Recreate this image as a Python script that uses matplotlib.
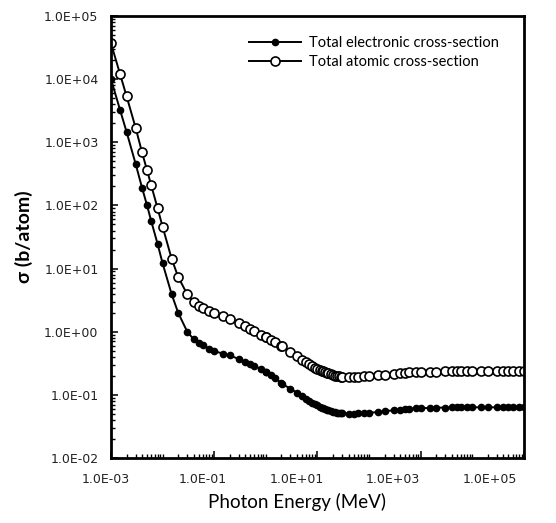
import numpy as np
import matplotlib.pyplot as plt
from matplotlib.ticker import LogLocator, FixedLocator, FuncFormatter, NullFormatter
from matplotlib.transforms import offset_copy

# photon energies (MeV)
energy = [1e-3, 1.5e-3, 2e-3, 3e-3, 4e-3, 5e-3, 6e-3, 8e-3, 1e-2, 1.5e-2,
          2e-2, 3e-2, 4e-2, 5e-2, 6e-2, 8e-2, 0.1, 0.15, 0.2, 0.3,
          0.4, 0.5, 0.6, 0.8, 1.0, 1.022, 1.25, 1.5, 2.0, 2.044,
          3, 4, 5, 6, 7, 8, 9, 10, 11, 12,
          13, 14, 15, 16, 18, 20, 22, 24, 26, 28,
          30, 40, 50, 60, 80, 100, 150, 200, 300, 400,
          500, 600, 800, 1000, 1500, 2000, 3000, 4000, 5000, 6000,
          8000, 1e4, 1.5e4, 2e4, 3e4, 4e4, 5e4, 6e4, 8e4, 1e5]

# total electronic cross-section (b/atom)
electronic = [1.0e4, 3.25e3, 1.47e3, 456, 190, 100, 57, 24.5, 12.1, 3.9,
              2.0, 1.0, 0.76, 0.67, 0.61, 0.54, 0.49, 0.45, 0.42, 0.37,
              0.33, 0.31, 0.288, 0.257, 0.232, 0.229, 0.205, 0.185, 0.152, 0.15,
              0.125, 0.108, 0.096, 0.087, 0.08, 0.075, 0.071, 0.068, 0.065, 0.063,
              0.061, 0.0595, 0.058, 0.057, 0.055, 0.054, 0.053, 0.052, 0.0515, 0.051,
              0.051, 0.0505, 0.0505, 0.051, 0.0515, 0.052, 0.0535, 0.055, 0.057, 0.0585,
              0.0595, 0.06, 0.061, 0.0615, 0.062, 0.0625, 0.063, 0.0633, 0.0635, 0.0635,
              0.0635, 0.0635, 0.0635, 0.0635, 0.0635, 0.0635, 0.0635, 0.0635, 0.0635, 0.0635]

# total atomic cross-section (b/atom)
atomic = [3.7e4, 1.2e4, 5.4e3, 1.7e3, 690, 360, 210, 90, 46, 14.2,
          7.4, 3.9, 2.95, 2.58, 2.35, 2.15, 2.0, 1.75, 1.6, 1.35,
          1.22, 1.1, 1.02, 0.9, 0.82, 0.81, 0.74, 0.69, 0.6, 0.59,
          0.48, 0.41, 0.36, 0.33, 0.305, 0.285, 0.27, 0.26, 0.25, 0.243,
          0.236, 0.23, 0.225, 0.22, 0.212, 0.206, 0.202, 0.199, 0.197, 0.195,
          0.194, 0.192, 0.192, 0.193, 0.196, 0.199, 0.204, 0.209, 0.216, 0.221,
          0.224, 0.226, 0.229, 0.231, 0.233, 0.234, 0.235, 0.235, 0.236, 0.236,
          0.236, 0.236, 0.236, 0.236, 0.236, 0.236, 0.236, 0.236, 0.236, 0.236]

x_ticks = [1e-3, 1e-1, 1e1, 1e3, 1e5]
x_tick_labels = ['1.0E-03', '1.0E-01', '1.0E+01', '1.0E+03', '1.0E+05']

fig = plt.figure(figsize=(5.56, 5.23), dpi=100)
ax = fig.add_axes([0.1996, 0.1243, 0.7428, 0.8451])

ax.plot(energy, electronic, '-o', color='black', lw=1.4, ms=4.5,
        mfc='black', mec='black', label='Total electronic cross-section')
ax.plot(energy, atomic, '-o', color='black', lw=1.4, ms=6.5,
        mfc='white', mec='black', mew=1.2, label='Total atomic cross-section')

ax.set_xscale('log')
ax.set_yscale('log')
ax.set_xlim(1e-3, 1e5)
ax.set_ylim(1e-2, 1e5)

fmt = FuncFormatter(lambda v, pos: f"{v:.1E}")
ax.xaxis.set_major_locator(FixedLocator(x_ticks))
ax.xaxis.set_minor_locator(LogLocator(base=10, subs=np.arange(1, 10)))
ax.yaxis.set_major_locator(LogLocator(base=10))
ax.yaxis.set_minor_locator(LogLocator(base=10, subs=np.arange(2, 10)))
ax.xaxis.set_major_formatter(NullFormatter())
ax.yaxis.set_major_formatter(fmt)
ax.xaxis.set_minor_formatter(NullFormatter())
ax.yaxis.set_minor_formatter(NullFormatter())

ax.tick_params(which='major', direction='in', length=5, width=1.3,
               labelsize=9, colors='#222222')
ax.tick_params(axis='y', which='major', pad=9)
ax.tick_params(which='minor', direction='in', length=3, width=1)
ax.tick_params(top=False, right=False, which='both')
for s in ax.spines.values():
    s.set_linewidth(2)

# x tick labels sit a bit left of their ticks in the original, more so to the right
shifts = [-5, -11.5, -20.5, -27.5, -34]
for xv, lab, dx in zip(x_ticks, x_tick_labels, shifts):
    tr = offset_copy(ax.get_xaxis_transform(), fig=fig, x=dx, y=-22, units='dots')
    ax.text(xv, 0, lab, transform=tr, ha='center', va='center',
            fontsize=9, color='#222222', clip_on=False)

ax.set_xlabel('Photon Energy (MeV)', fontsize=13.5, family='Lato')
ax.xaxis.set_label_coords(0.45, -0.078)
ax.set_ylabel('σ (b/atom)', fontsize=14, family='Lato', fontweight='bold',
              labelpad=8)

ax.legend(loc='upper right', frameon=False, prop={'family': 'Lato', 'size': 10.5},
          bbox_to_anchor=(0.97, 0.985), handlelength=3.6, handletextpad=0.5,
          labelspacing=0.35)

fig.savefig('out.png', dpi=100)
